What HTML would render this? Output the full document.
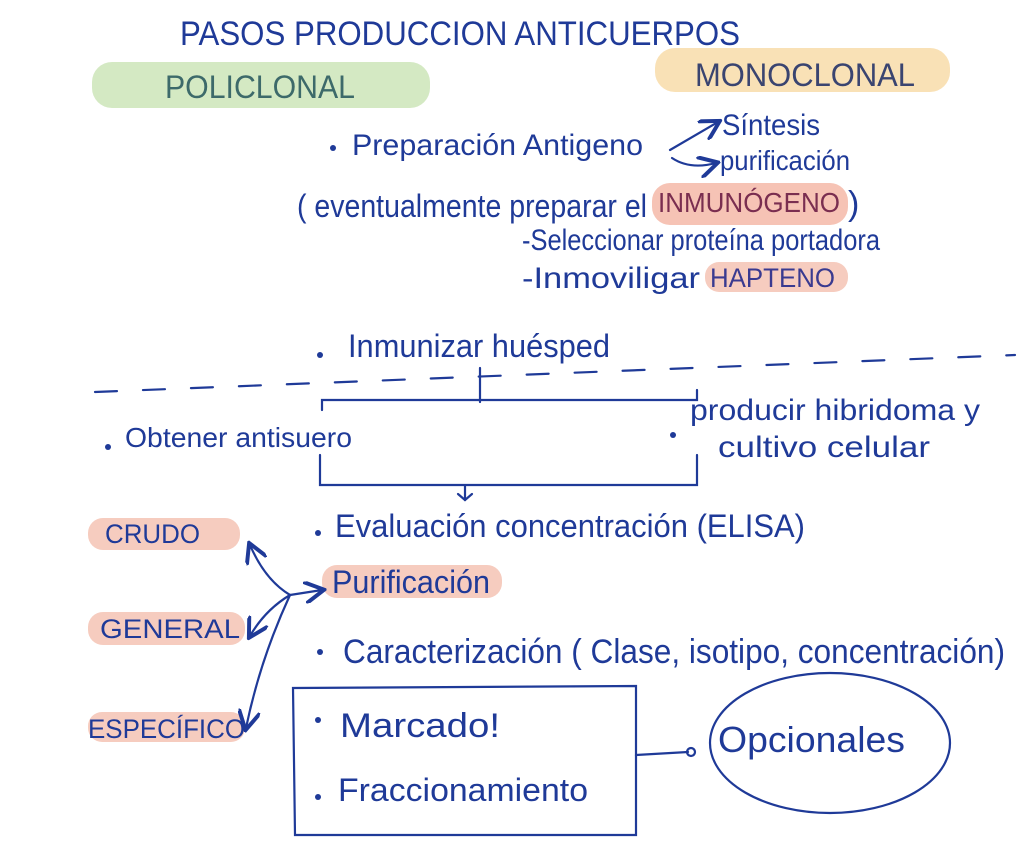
<!DOCTYPE html>
<html><head><meta charset="utf-8"><style>
html,body{margin:0;padding:0;background:#fff;}
svg{display:block}
text{font-family:"Liberation Sans Narrow","Liberation Sans",sans-serif;fill:#1f3a98;}
</style></head><body>
<svg width="1024" height="862" viewBox="0 0 1024 862" xmlns="http://www.w3.org/2000/svg">
<defs>
<marker id="ar" markerWidth="10" markerHeight="10" refX="8" refY="5" orient="auto"><path d="M0,0 L9,5 L0,10" fill="none" stroke="#1f3a98" stroke-width="1.8"/></marker>
</defs>
<g fill="none" stroke="#1f3a98" stroke-width="2.2" stroke-linecap="round">
<!-- highlights -->
</g>
<rect x="92" y="62" width="338" height="46" rx="20" fill="#c9e3b4" opacity="0.8"/>
<rect x="655" y="48" width="295" height="44" rx="20" fill="#f8d9a4" opacity="0.8"/>
<rect x="652" y="183" width="196" height="42" rx="18" fill="#f4b9a8" opacity="0.85"/>
<rect x="705" y="262" width="143" height="30" rx="14" fill="#f4c3b4" opacity="0.85"/>
<rect x="88" y="518" width="152" height="32" rx="15" fill="#f4c3b4" opacity="0.85"/>
<rect x="88" y="612" width="157" height="33" rx="15" fill="#f4c3b4" opacity="0.85"/>
<rect x="88" y="712" width="157" height="30" rx="14" fill="#f4c3b4" opacity="0.85"/>
<rect x="322" y="565" width="180" height="33" rx="15" fill="#f4c3b4" opacity="0.85"/>

<text x="180" y="45" font-size="34" textLength="560" lengthAdjust="spacingAndGlyphs">PASOS PRODUCCION ANTICUERPOS</text>
<text x="165" y="98" font-size="32" textLength="190" lengthAdjust="spacingAndGlyphs" style="fill:#3d6a6a">POLICLONAL</text>
<text x="695" y="86" font-size="32" textLength="220" lengthAdjust="spacingAndGlyphs" style="fill:#3a4470">MONOCLONAL</text>

<g fill="#1f3a98"><circle cx="333" cy="148" r="3"/><circle cx="320" cy="355" r="3"/><circle cx="108" cy="447" r="3"/><circle cx="673" cy="435" r="3"/><circle cx="318" cy="533" r="3"/><circle cx="320" cy="652" r="3"/><circle cx="318" cy="720" r="3"/><circle cx="318" cy="797" r="3"/></g>

<text x="352" y="155" font-size="30" textLength="291" lengthAdjust="spacingAndGlyphs">Preparación Antigeno</text>
<text x="722" y="135" font-size="30" textLength="98" lengthAdjust="spacingAndGlyphs">Síntesis</text>
<text x="720" y="170" font-size="28" textLength="130" lengthAdjust="spacingAndGlyphs">purificación</text>
<text x="297" y="217" font-size="32" textLength="350" lengthAdjust="spacingAndGlyphs">( eventualmente preparar el</text>
<text x="658" y="212" font-size="28" textLength="182" lengthAdjust="spacingAndGlyphs" style="fill:#7a2e50">INMUNÓGENO</text>
<text x="848" y="215" font-size="34">)</text>
<text x="522" y="250" font-size="30" textLength="358" lengthAdjust="spacingAndGlyphs">-Seleccionar proteína portadora</text>
<text x="522" y="288" font-size="30" textLength="178" lengthAdjust="spacingAndGlyphs">-Inmoviligar</text>
<text x="710" y="287" font-size="27" textLength="125" lengthAdjust="spacingAndGlyphs" style="fill:#3a3a90">HAPTENO</text>
<text x="348" y="357" font-size="32" textLength="262" lengthAdjust="spacingAndGlyphs">Inmunizar huésped</text>
<text x="125" y="447" font-size="28" textLength="227" lengthAdjust="spacingAndGlyphs">Obtener antisuero</text>
<text x="690" y="420" font-size="30" textLength="290" lengthAdjust="spacingAndGlyphs">producir hibridoma y</text>
<text x="718" y="457" font-size="30" textLength="212" lengthAdjust="spacingAndGlyphs">cultivo celular</text>
<text x="335" y="537" font-size="32" textLength="470" lengthAdjust="spacingAndGlyphs">Evaluación concentración (ELISA)</text>
<text x="105" y="543" font-size="27" textLength="95" lengthAdjust="spacingAndGlyphs">CRUDO</text>
<text x="100" y="638" font-size="27" textLength="140" lengthAdjust="spacingAndGlyphs">GENERAL</text>
<text x="88" y="738" font-size="27" textLength="157" lengthAdjust="spacingAndGlyphs">ESPECÍFICO</text>
<text x="332" y="593" font-size="32" textLength="158" lengthAdjust="spacingAndGlyphs">Purificación</text>
<text x="343" y="663" font-size="34" textLength="662" lengthAdjust="spacingAndGlyphs">Caracterización ( Clase, isotipo, concentración)</text>
<text x="340" y="737" font-size="34" textLength="160" lengthAdjust="spacingAndGlyphs">Marcado!</text>
<text x="338" y="801" font-size="32" textLength="250" lengthAdjust="spacingAndGlyphs">Fraccionamiento</text>
<text x="718" y="752" font-size="36" textLength="187" lengthAdjust="spacingAndGlyphs">Opcionales</text>

<g fill="none" stroke="#1f3a98" stroke-width="2.2" stroke-linecap="round">
<path d="M670 150 L718 122" marker-end="url(#ar)"/>
<path d="M672 158 Q690 170 716 163" marker-end="url(#ar)"/>
<path d="M95 392 L1015 355" stroke-dasharray="22 26"/>
<path d="M480 368 L480 402 M322 410 L322 400 L697 400 L697 390"/>
<path d="M320 455 L320 485 L697 485 L697 455 M465 485 L465 500" />
<path d="M458 494 L465 500 L472 494"/>
<path d="M290 595 Q265 580 250 545" marker-end="url(#ar)"/>
<path d="M290 595 Q265 610 250 636" marker-end="url(#ar)"/>
<path d="M290 595 Q260 660 246 728" marker-end="url(#ar)"/>
<path d="M290 595 L322 590" marker-end="url(#ar)"/>
<path d="M293 688 L636 686 L636 835 L295 835 Z"/>
<path d="M636 755 L688 752"/>
<circle cx="691" cy="752" r="4"/>
<ellipse cx="830" cy="743" rx="120" ry="70"/>
</g>
</svg>
</body></html>
